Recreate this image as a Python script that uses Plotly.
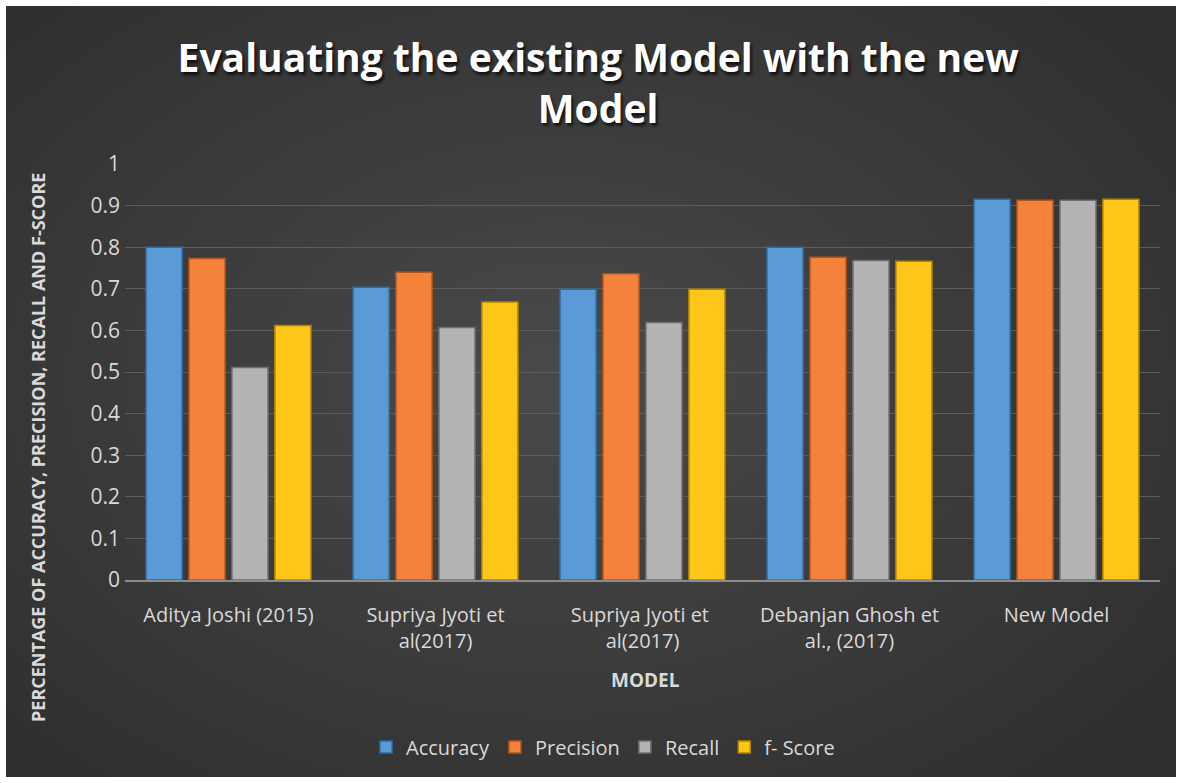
import plotly.graph_objects as go

categories = ["Aditya Joshi (2015)", "Supriya Jyoti et<br>al(2017)", "Supriya Jyoti et <br>al(2017)",
              "Debanjan Ghosh et<br>al., (2017)", "New Model"]
accuracy = [0.80, 0.704, 0.699, 0.80, 0.915]
precision = [0.773, 0.74, 0.736, 0.776, 0.913]
recall = [0.511, 0.607, 0.619, 0.768, 0.913]
fscore = [0.612, 0.668, 0.699, 0.766, 0.915]

series = [
    ("Accuracy", accuracy, "#5B9BD5", "#2E6DA4"),
    ("Precision", precision, "#F5823A", "#B4561C"),
    ("Recall", recall, "#B4B4B4", "#6E6E6E"),
    ("f- Score", fscore, "#FFC61A", "#B08500"),
]

W, H = 1182, 783
L, R, T, B = 125, 22, 164, 203
pw, ph = W - L - R, H - T - B

def px(x):
    return (x - L) / pw

def py(y):
    return (H - B - y) / ph

fig = go.Figure()
for name, vals, col, edge in series:
    fig.add_trace(go.Bar(x=categories, y=vals, name=name,
                         marker=dict(color=col, line=dict(color=edge, width=1.5))))

shapes = [dict(type="rect", xref="paper", yref="paper", x0=px(6), x1=px(1176), y0=py(777), y1=py(6),
               fillcolor="#2f2f2f", line=dict(width=0), layer="below")]
# smooth radial lightening of the background
n = 26
cx, cy = 560, 380
for i in range(n):
    f = 1 - i / n
    rx, ry = 760 * f, 520 * f
    shapes.append(dict(type="circle", xref="paper", yref="paper", x0=px(cx - rx), x1=px(cx + rx),
                       y0=py(cy + ry), y1=py(cy - ry), fillcolor="rgba(255,255,255,0.0085)",
                       line=dict(width=0), layer="below"))

fig.update_layout(
    width=W, height=H,
    margin=dict(l=L, r=R, t=T, b=B),
    paper_bgcolor="white",
    plot_bgcolor="rgba(0,0,0,0)",
    barmode="group", bargap=0.17, bargroupgap=0.16,
    shapes=shapes,
    title=dict(text="<b>Evaluating the existing Model with the new<br>Model</b>",
               x=0.506, xanchor="center", y=1 - 72 / H, yanchor="middle",
               font=dict(family="Open Sans", size=39, color="white",
                         shadow="2px 3px 3px rgba(0,0,0,0.7)")),
    font=dict(family="Open Sans", color="#d9d9d9"),
    showlegend=True,
    legend=dict(orientation="h", x=px(603), xanchor="center", y=py(747), yanchor="middle",
                font=dict(size=20, color="#d9d9d9"), bgcolor="rgba(0,0,0,0)", itemwidth=30),
    yaxis=dict(range=[0, 1], dtick=0.1, tickformat="~g", gridcolor="#5c5c5c", gridwidth=1,
               tickfont=dict(size=21, color="#d9d9d9"), zeroline=False, showline=False, ticks="",
               ticklabelstandoff=4),
    xaxis=dict(showline=True, linecolor="#8c8c8c", linewidth=1.5, ticks="",
               tickfont=dict(size=20, color="#d9d9d9"), ticklabelstandoff=16),
    annotations=[
        dict(text="<b>PERCENTAGE OF ACCURACY, PRECISION, RECALL AND F-SCORE</b>", textangle=-90,
             xref="paper", yref="paper", x=px(38), y=py(448), xanchor="center", yanchor="middle",
             showarrow=False, font=dict(size=18, color="#d9d9d9")),
        dict(text="<b>MODEL</b>", xref="paper", yref="paper", x=px(645), y=py(680),
             xanchor="center", yanchor="middle", showarrow=False, font=dict(size=19, color="#d9d9d9")),
    ],
)
fig.write_html("out.html")
